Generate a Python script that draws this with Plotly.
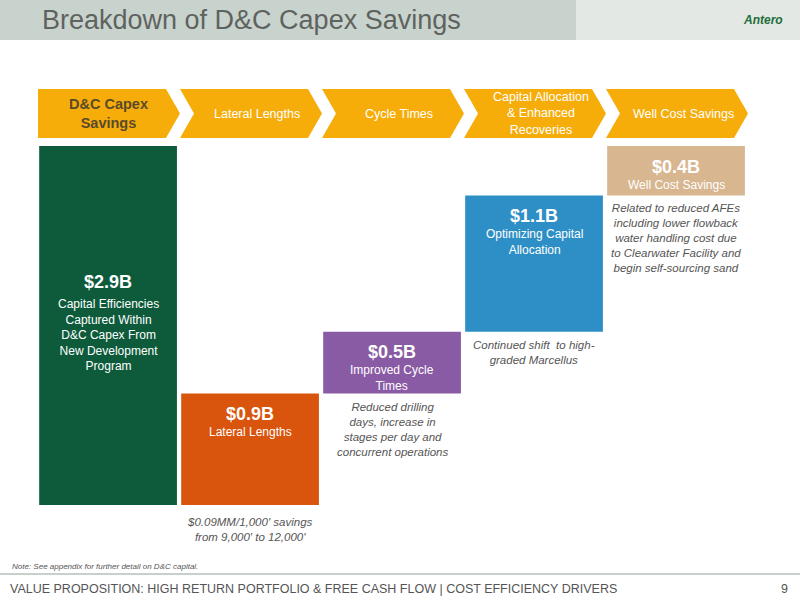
import plotly.graph_objects as go

steps = ["D&C Capex<br>Savings", "Lateral Lengths", "Cycle Times",
         "Capital Allocation<br>& Enhanced<br>Recoveries", "Well Cost Savings"]
values = [2.9, 0.9, 0.5, 1.1, 0.4]
bases = [0, 0, 0.9, 1.4, 2.5]
amounts = ["$2.9B", "$0.9B", "$0.5B", "$1.1B", "$0.4B"]
inner = ["Capital Efficiencies<br>Captured Within<br>D&C Capex From<br>New Development<br>Program",
         "Lateral Lengths", "Improved Cycle<br>Times", "Optimizing Capital<br>Allocation",
         "Well Cost Savings"]
notes = ["", "$0.09MM/1,000' savings<br>from 9,000' to 12,000'",
         "Reduced drilling<br>days, increase in<br>stages per day and<br>concurrent operations",
         "Continued shift  to high-<br>graded Marcellus",
         "Related to reduced AFEs<br>including lower flowback<br>water handling cost due<br>to Clearwater Facility and<br>begin self-sourcing sand"]
colors = ["#0d5b3b", "#d9540c", "#8a5ba5", "#2e8fc6", "#d8b690"]
xs = list(range(len(values)))

fig = go.Figure(go.Bar(x=xs, y=values, base=bases, width=0.97,
                       marker=dict(color=colors, line=dict(width=0)),
                       hoverinfo="skip"))

shapes = []
# title band
shapes.append(dict(type="rect", xref="paper", yref="paper", x0=0, x1=1, y0=1 - 40/600, y1=1,
                   fillcolor="#c9d3cd", line=dict(width=0), layer="below"))
shapes.append(dict(type="rect", xref="paper", yref="paper", x0=0.72, x1=1, y0=1 - 40/600, y1=1,
                   fillcolor="#e3e8e5", line=dict(width=0), layer="below"))
# footer line
shapes.append(dict(type="line", xref="paper", yref="paper", x0=0, x1=1, y0=1 - 574/600, y1=1 - 574/600,
                   line=dict(color="#c8d0cc", width=2)))

annotations = []
# chevrons
for i, s in enumerate(steps):
    x0 = 38 + 142 * i
    x1 = x0 + 128
    tip = x1 + 14
    top, bot, mid = 1 - 89/600, 1 - 138/600, 1 - 113.5/600
    if i == 0:
        path = f"M{x0/800},{top} L{x1/800},{top} L{tip/800},{mid} L{x1/800},{bot} L{x0/800},{bot} Z"
    else:
        path = (f"M{x0/800},{top} L{x1/800},{top} L{tip/800},{mid} L{x1/800},{bot} "
                f"L{x0/800},{bot} L{(x0+14)/800},{mid} Z")
    shapes.append(dict(type="path", xref="paper", yref="paper", path=path,
                       fillcolor="#f6ad0a", line=dict(width=0)))
    annotations.append(dict(xref="paper", yref="paper", x=(x0 + 70 + (0 if i == 0 else 7)) / 800, y=mid,
                            xanchor="center", yanchor="middle",
                            text=f"<b>{s}</b>" if i == 0 else s, showarrow=False,
                            font=dict(size=14.5 if i == 0 else 12.5, color="#5a4a2a" if i == 0 else "#ffffff"),
                            align="center"))

for i in xs:
    top = bases[i] + values[i]
    annotations.append(dict(x=i, y=top - (1.0 if i == 0 else 0.07), yanchor="top",
                            text=f"<b>{amounts[i]}</b>", showarrow=False,
                            font=dict(size=18, color="white")))
    annotations.append(dict(x=i, y=top - (1.2 if i == 0 else 0.24), yanchor="top",
                            text=inner[i], showarrow=False,
                            font=dict(size=12, color="white"), align="center"))
    if notes[i]:
        y = -0.07 if i == 1 else bases[i] - 0.04
        annotations.append(dict(x=i, y=y, yanchor="top", text=f"<i>{notes[i]}</i>",
                                showarrow=False, font=dict(size=11.5, color="#555555"),
                                align="center"))

annotations += [
    dict(xref="paper", yref="paper", x=40/800, y=1 - 20/600, xanchor="left", yanchor="middle",
         text="Breakdown of D&C Capex Savings", showarrow=False,
         font=dict(size=27, color="#5f6360")),
    dict(xref="paper", yref="paper", x=785/800, y=1 - 20/600, xanchor="right", yanchor="middle",
         text="<b><i>Antero</i></b>", showarrow=False, font=dict(size=12, color="#1d6e3a")),
    dict(xref="paper", yref="paper", x=10/800, y=1 - 566/600, xanchor="left", yanchor="middle",
         text="<i>Note: See appendix for further detail on D&C capital.</i>", showarrow=False,
         font=dict(size=8, color="#555555")),
    dict(xref="paper", yref="paper", x=8/800, y=1 - 589/600, xanchor="left", yanchor="middle",
         text="VALUE PROPOSITION: HIGH RETURN PORTFOLIO & FREE CASH FLOW | COST EFFICIENCY DRIVERS",
         showarrow=False, font=dict(size=12.5, color="#555555")),
    dict(xref="paper", yref="paper", x=790/800, y=1 - 589/600, xanchor="right", yanchor="middle",
         text="9", showarrow=False, font=dict(size=12.5, color="#555555")),
]

fig.update_layout(
    width=800, height=600, margin=dict(l=0, r=0, t=0, b=0),
    paper_bgcolor="white", plot_bgcolor="white", showlegend=False,
    font=dict(family="Liberation Sans, Arial, sans-serif"),
    xaxis=dict(range=[-0.761, 4.873], visible=False, fixedrange=True),
    yaxis=dict(range=[-0.767, 4.079], visible=False, fixedrange=True),
    shapes=shapes, annotations=annotations,
)
fig.write_html("out.html", config={"displayModeBar": False},
               post_script="document.body.style.margin='0';document.body.style.overflow='hidden';")
